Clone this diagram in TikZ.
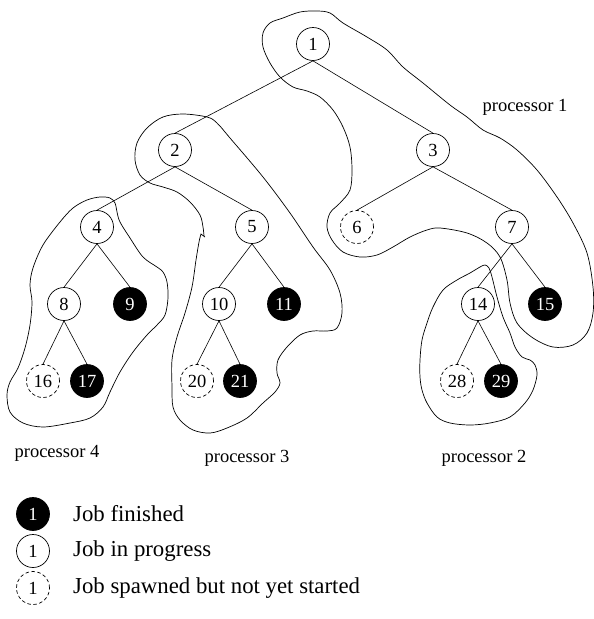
\documentclass[tikz,border=0pt]{standalone}
\usepackage{fontspec}
\setmainfont{Liberation Serif}
\begin{document}
\begin{tikzpicture}[x=1pt,y=-1pt,
  job/.style={circle,draw,line width=0.7pt,minimum size=33pt,inner sep=0pt,font=\fontsize{18.5}{20}\selectfont},
  done/.style={job,fill=black,text=white},
  prog/.style={job},
  spawn/.style={job,dashed,dash pattern=on 3.5pt off 2.5pt},
  edge/.style={line width=0.6pt},
  blob/.style={line width=0.7pt},
  lbl/.style={font=\fontsize{18.5}{20}\selectfont},
  leg/.style={anchor=west,inner sep=0pt,font=\fontsize{22.8}{24}\selectfont}]
\useasboundingbox (0,0) rectangle (594,619);
% tree nodes
\node[prog] (n1) at (313,44) {1};
\node[prog] (n2) at (175,150) {2};
\node[prog] (n3) at (433,150) {3};
\node[prog] (n4) at (97,227) {4};
\node[prog] (n5) at (252,227) {5};
\node[spawn] (n6) at (357,227) {6};
\node[prog] (n7) at (512,227) {7};
\node[prog] (n8) at (64,304) {8};
\node[done] (n9) at (130,304) {9};
\node[prog] (n10) at (219,304) {10};
\node[done] (n11) at (284,304) {11};
\node[prog] (n14) at (478,304) {14};
\node[done] (n15) at (545,304) {15};
\node[spawn] (n16) at (43,381) {16};
\node[done] (n17) at (87,381) {17};
\node[spawn] (n20) at (197,381) {20};
\node[done] (n21) at (240,381) {21};
\node[spawn] (n28) at (457,381) {28};
\node[done] (n29) at (501,381) {29};
% edges
\foreach \a/\b in {n1/n2,n1/n3,n2/n4,n2/n5,n3/n6,n3/n7,n4/n8,n4/n9,n5/n10,n5/n11,n7/n14,n7/n15,n8/n16,n8/n17,n10/n20,n10/n21,n14/n28,n14/n29}
  \draw[edge] (\a.south) -- (\b.north);
% processor 1
\draw[blob] plot[smooth cycle,tension=0.55] coordinates {
 (330,13) (343,23) (367,37) (387,50) (403,67) (423,83) (450,105) (467,117) (483,130)
 (500,138) (517,150) (537,170) (557,197) (573,223) (587,253) (593,287) (593,313)
 (587,333) (573,345) (553,347) (533,338) (517,323) (510,303) (507,280) (500,257)
 (487,243) (467,233) (440,228) (427,230) (410,237) (393,247) (377,255) (360,257)
 (343,252) (332,240) (327,227) (330,213) (340,203) (350,190) (352,170) (350,147)
 (343,127) (333,110) (320,97) (307,91) (293,87) (280,77) (270,63) (263,47) (263,33)
 (270,23) (283,18) (300,12) (317,11)};
% processor 3
\draw[blob] plot[smooth,tension=0.55] coordinates {
 (204,236) (203,227) (200,215) (190,202) (177,192) (163,187) (150,183) (140,175)
 (135,160) (137,143) (147,128) (163,117) (183,114) (207,117) (217,123) (230,138)
 (263,177) (290,213) (313,247) (330,270) (340,293) (342,313) (337,328) (327,331)
 (313,331) (300,335) (287,347) (278,360) (277,373) (280,383) (275,392) (263,403)
 (247,418) (227,428) (210,433) (193,430) (180,420) (173,407) (172,387) (172,360)
 (177,337) (185,313) (192,287) (196,260) (199,242) (201,234)} -- (205,237);
% processor 4
\draw[blob] plot[smooth cycle,tension=0.55] coordinates {
 (100,197) (110,198) (115,203) (117,212) (120,222) (130,238) (143,257) (157,267)
 (163,272) (167,282) (168,298) (165,315) (157,325) (147,335) (133,352) (120,372)
 (110,392) (103,407) (90,418) (70,423) (43,427) (23,423) (10,412) (7,395) (10,382)
 (18,368) (25,348) (30,325) (32,302) (30,285) (33,268) (43,245) (60,222) (73,208)
 (87,200)};
% processor 2
\draw[blob] plot[smooth cycle,tension=0.55] coordinates {
 (485,265) (489,268) (492,277) (497,297) (503,317) (510,333) (515,347) (522,357)
 (530,360) (535,365) (537,375) (533,390) (525,403) (510,417) (490,423) (470,425)
 (450,423) (437,417) (427,403) (422,390) (420,377) (420,360) (422,340) (427,323)
 (433,307) (443,290) (457,280) (470,273) (480,267)};
% labels
\node[lbl] (p1) at (525,107) {processor 1};
\node[lbl] (p4) at (57,453) {processor 4};
\node[lbl] (p3) at (247,458) {processor 3};
\node[lbl] (p2) at (484,458) {processor 2};
% legend
\node[done] (l1) at (33,514) {1};
\node[prog] (l2) at (33,551) {1};
\node[spawn] (l3) at (33,588) {1};
\node[leg] (t1) at (73,514) {Job finished};
\node[leg] (t2) at (73,551) {Job in progress};
\node[leg] (t3) at (73,588) {Job spawned but not yet started};
\end{tikzpicture}
\end{document}
